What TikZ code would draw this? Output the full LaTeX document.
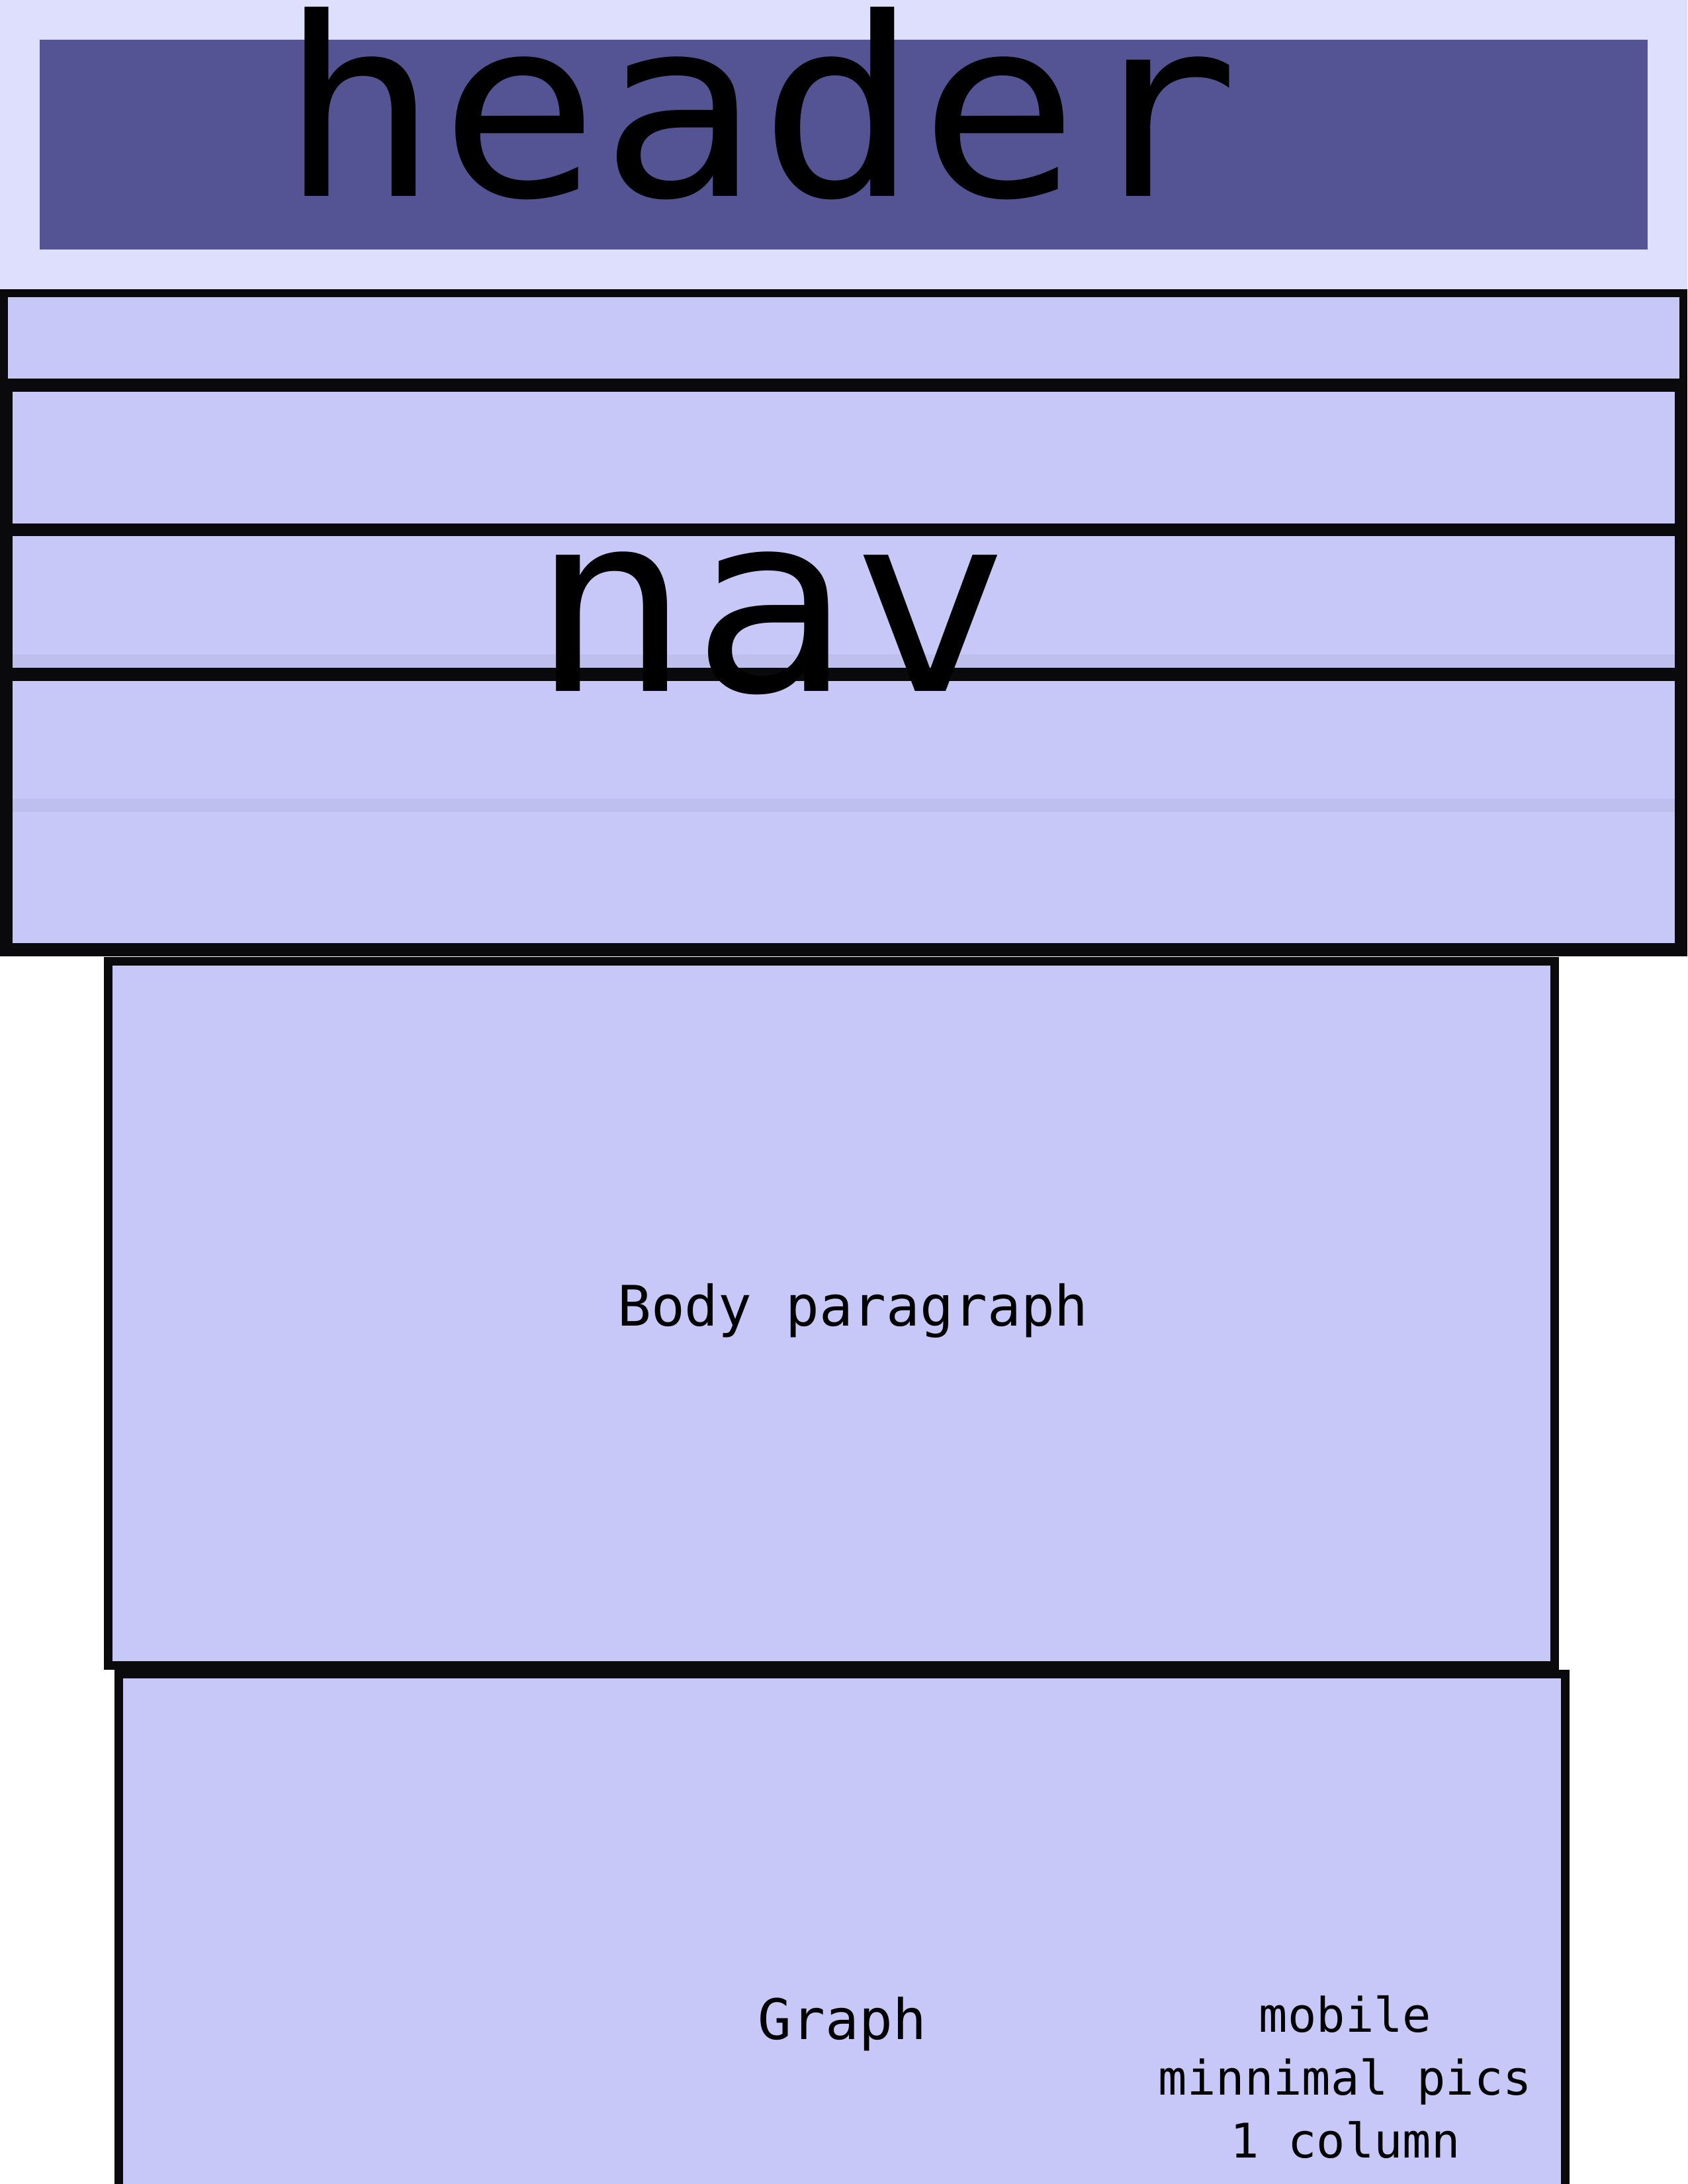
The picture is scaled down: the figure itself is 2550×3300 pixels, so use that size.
\documentclass[tikz,border=0pt]{standalone}
\usepackage{fontspec}
\setmonofont{DejaVu Sans Mono}
\usepackage{graphicx}
\usepackage{tikz}
\usetikzlibrary{positioning}
\definecolor{HeadBand}{HTML}{DEDEFD}
\definecolor{HeadBar}{HTML}{545494}
\definecolor{BoxFill}{HTML}{C8C8F8}
\definecolor{BoxShade}{HTML}{BFBFEE}
\definecolor{Ink}{HTML}{0A0A0C}
\newcommand{\wide}[1]{\scalebox{1.067}[1]{#1}}

\begin{document}
\begin{tikzpicture}[
    x=0.01cm, y=-0.01cm,
    wall/.style={draw=Ink, line width=0.12cm, fill=BoxFill},
    frame/.style={draw=Ink, line width=0.13cm, fill=BoxFill},
    big/.style={inner sep=0pt, anchor=base, font=\ttfamily\fontsize{107pt}{107pt}\selectfont},
    lbl/.style={inner sep=0pt, anchor=base, font=\ttfamily\fontsize{24pt}{28pt}\selectfont},
    mob/.style={inner sep=0pt, anchor=base, font=\ttfamily\fontsize{20.5pt}{27pt}\selectfont},
  ]
    \fill[white] (0,0) rectangle (2550,3300);
    \useasboundingbox (0,0) rectangle (2550,3300);
    % ---- header ----
    \fill[HeadBand] (0,0) rectangle (2550,437);
    \fill[HeadBar] (60,60) rectangle (2490,377);
    \node[big] (hdr) at (1148,296) {\wide{header}};
    % ---- nav ----
    \draw[wall] (6,443) rectangle (2544,1439);
    \draw[wall] (6,443) rectangle (2544,578);
    \foreach \ya/\yb in {586/797, 804/1015, 1023/1431}{\draw[wall] (13,\ya) rectangle (2537,\yb);}
    \foreach \ya/\yb in {989/1009, 1207/1227}{\fill[BoxShade] (19,\ya) rectangle (2531,\yb);}
    \node[big] (navlbl) at (1165,1044) {\wide{nav}};
    % ---- body ----
    \draw[frame] (163.5,1452.5) rectangle (2349,2516.5);
    \node[lbl] (bodylbl) at (1289,2003) {Body paragraph};
    % ---- graph ----
    \draw[frame] (179.5,2529.5) rectangle (2365,3360);
    \node[lbl] (graphlbl) at (1273,3081) {Graph};
    \foreach \txt [count=\i] in {mobile, minnimal pics, 1 column}{\node[mob] (mob\i) at (2033,2975+95*\i) {\txt};}
\end{tikzpicture}
\end{document}
